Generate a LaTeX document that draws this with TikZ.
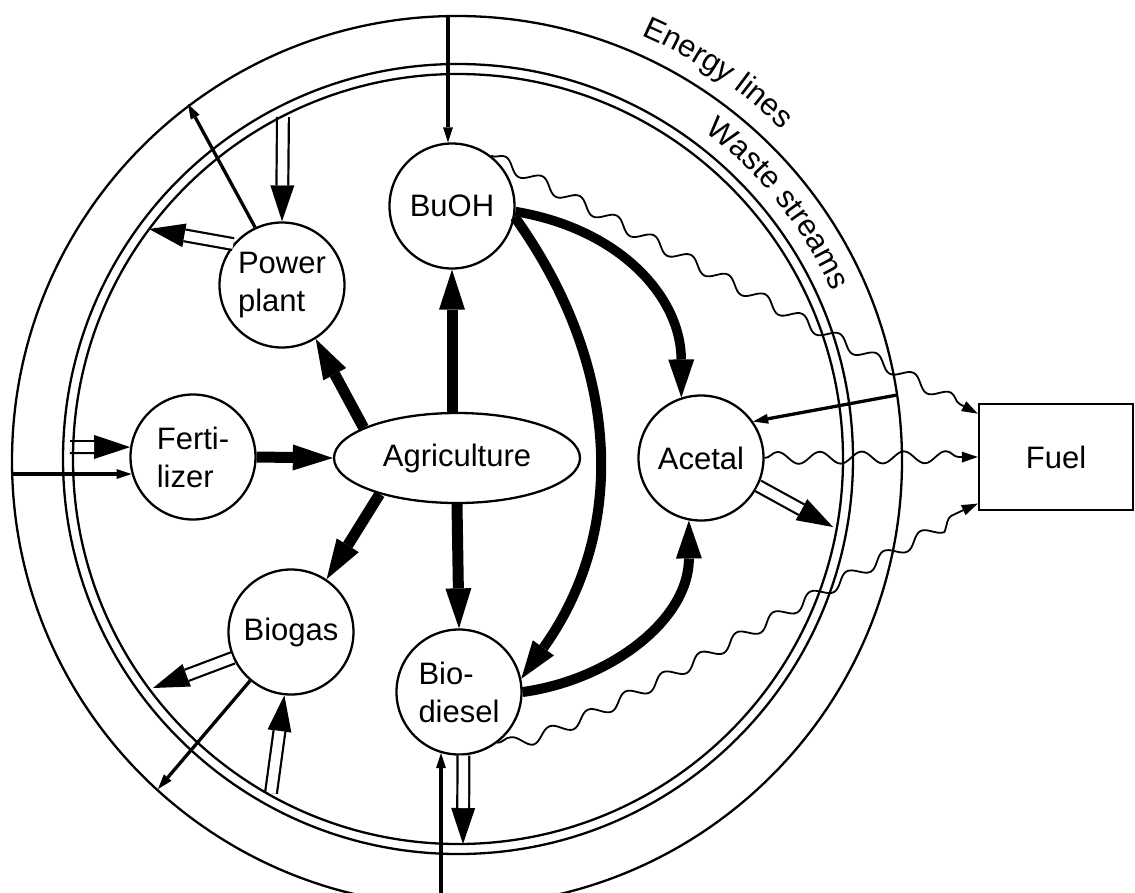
\documentclass[tikz,border=0pt]{standalone}
\usepackage{fontspec}
\setmainfont{Liberation Sans}
\usetikzlibrary{arrows.meta,shapes.geometric,decorations.pathmorphing,decorations.text,calc}
\newcommand\diaglbl{\fontsize{31pt}{38pt}\selectfont}
\newcommand\wastearrow[2]{\draw[wasteout] #1 -- #2; \draw[wastein] #1 -- #2;}
\begin{document}
\begin{tikzpicture}[x=1pt,y=-1pt,
  ring/.style={line width=2.3pt},
  proc/.style={draw, line width=2.3pt, circle, minimum size=125pt, inner sep=0pt, align=left, font=\diaglbl},
  thickarrow/.style={line width=11pt, -{Triangle[length=40pt,width=26pt,line width=0pt]}},
  thickcurve/.style={line width=10pt, -{Triangle[length=38pt,width=26pt,line width=0pt]}},
  energy/.style={line width=3.3pt, -{Triangle[length=15pt,width=10pt,line width=0pt]}},
  wasteout/.style={line width=14pt, -{Triangle[length=36pt,width=24pt,line width=0pt]}},
  wastein/.style={white, line width=9.6pt, shorten >=36pt},
  wavy/.style={line width=1.8pt, decorate, decoration={snake, amplitude=6pt, segment length=42pt, post length=18pt}, -{Triangle[length=16pt,width=11pt,line width=0pt]}}
]
\useasboundingbox (0,0) rectangle (1135,892);
\clip (0,0) rectangle (1135,892);
\fill[white] (0,0) rectangle (1135,892);

\coordinate (bigc) at (457,461);
\coordinate (ringc) at (458,459);

% process nodes
\node[proc] (buoh) at (452,206) {BuOH};
\node[proc] (power) at (282,285) {Power\\plant};
\node[proc] (fert) at (193,457) {Ferti-\\lizer};
\node[draw, line width=2.3pt, ellipse, minimum width=246pt, minimum height=90pt, inner sep=0pt, font=\diaglbl] (agri) at (457,458) {Agriculture};
\node[proc] (acetal) at (701,458) {Acetal};
\node[proc] (biogas) at (291,632) {Biogas};
\node[proc] (biodiesel) at (459,692) {Bio-\\diesel};
\node[draw, line width=2.3pt, minimum width=154pt, minimum height=106pt, inner sep=0pt, font=\diaglbl] (fuel) at (1056,457) {Fuel};

% thick material flows from agriculture
\draw[thickarrow] (agri.162) -- (power.-58);
\draw[thickarrow] (agri.north -| buoh.south) -- (buoh.south);
\draw[thickarrow] (fert.east) -- (agri.west);
\draw[thickarrow] (agri.205) -- (biogas.56);
\draw[thickarrow] (agri.south) -- (biodiesel.north);

% thick curved flows
\draw[thickcurve] (buoh.-10) .. controls (622,367) and (627,531) .. (biodiesel.12);
\draw[thickcurve, line width=9.5pt] (buoh.-5) .. controls (620,229) and (681,297) .. (acetal.108);
\draw[thickcurve] (biodiesel.0) .. controls (610,680) and (689,620) .. (acetal.-101);

% energy lines
\coordinate (e1s) at (448,16);
\draw[energy] (e1s) -- (e1s |- buoh.north);
\coordinate (e2e) at (188,104);
\draw[energy] (power.115) -- (e2e);
\coordinate (e3s) at (12,474);
\draw[energy] (e3s) -- (e3s -| fert.195);
\coordinate (e4s) at (897,395);
\draw[energy] (e4s) -- (acetal.35);
\coordinate (e5e) at (158,789);
\draw[energy] (biogas.230) -- (e5e);
\coordinate (e6s) at (441,905);
\draw[energy] (e6s) -- (e6s |- biodiesel.254);

% waste streams (double arrows)
\coordinate (d1s) at (283,117);
\coordinate (d2e) at (149,229);
\coordinate (d3s) at (70,447);
\coordinate (d4e) at (153,688);
\coordinate (d5s) at (271,793);
\coordinate (d6e) at (463,844);
\coordinate (d7e) at (833,527);
\wastearrow{(d1s)}{(power.north)}
\wastearrow{(power.140)}{(d2e)}
\wastearrow{(d3s)}{(fert.171)}
\wastearrow{(biogas.204)}{(d4e)}
\wastearrow{(d5s)}{(biogas.264)}
\wastearrow{(biodiesel.-86)}{(d6e)}
\wastearrow{(acetal.-26)}{(d7e)}

% fuel streams (wavy)
\draw[wavy] (buoh.52) -- ($(fuel.north west)!0.1!(fuel.south west)$);
\draw[wavy] (acetal.east) -- (fuel.west);
\draw[wavy] (biodiesel.-53) .. controls (560,745) and (880,545) .. ($(fuel.south west)!0.07!(fuel.north west)$);

% rings
\draw[ring] (bigc) circle[radius=445];
\draw[ring] (ringc) circle[radius=395];
\draw[ring] (ringc) circle[radius=385];

% ring labels
\path[decorate, decoration={text along path, text align=left, text={|\diaglbl|Energy lines}}]
  ($(bigc)+(-66.6:464)$) arc[start angle=-66.6, end angle=-30, radius=464];
\path[decorate, decoration={text along path, text align=left, text={|\diaglbl|Waste streams}}]
  ($(ringc)+(-53:410)$) arc[start angle=-53, end angle=-5, radius=410];
\end{tikzpicture}
\end{document}
